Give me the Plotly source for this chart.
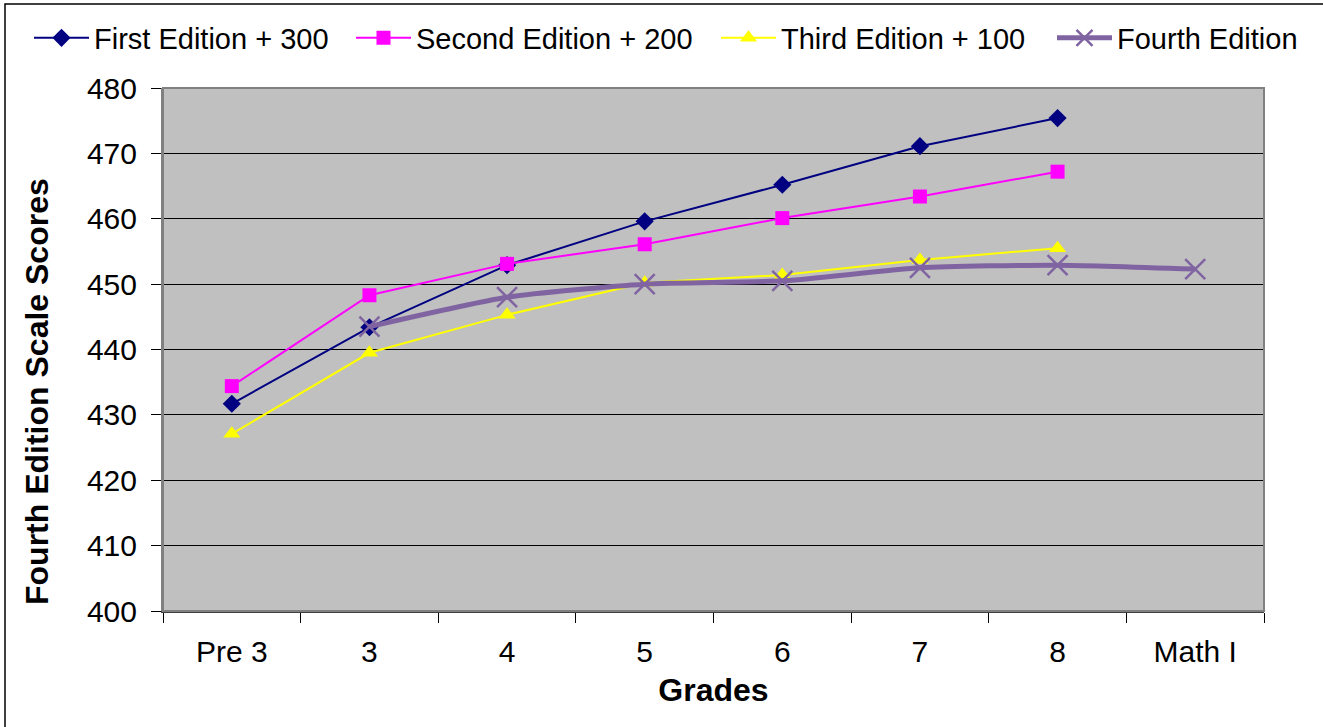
import plotly.graph_objects as go

# Grade categories on the x axis
grades = ["Pre 3", "3", "4", "5", "6", "7", "8", "Math I"]

# Scale scores per edition (offsets already applied)
first_plus_300 = [431.7, 443.4, 452.9, 459.6, 465.2, 471.1, 475.4, None]
second_plus_200 = [434.4, 448.3, 453.1, 456.1, 460.1, 463.4, 467.2, None]
third_plus_100 = [427.1, 439.5, 445.3, 450.2, 451.4, 453.7, 455.5, None]
fourth = [None, 443.5, 448.0, 450.0, 450.5, 452.5, 452.9, 452.3]

y_ticks = [400, 410, 420, 430, 440, 450, 460, 470, 480]

fig = go.Figure()

fig.add_trace(go.Scatter(
    x=grades, y=first_plus_300, name="First Edition + 300", mode="lines+markers",
    line=dict(color="#000080", width=2),
    marker=dict(symbol="diamond", size=14, color="#000080"),
    legend="legend",
))
fig.add_trace(go.Scatter(
    x=grades, y=second_plus_200, name="Second Edition + 200", mode="lines+markers",
    line=dict(color="#FF00FF", width=2),
    marker=dict(symbol="square", size=14, color="#FF00FF"),
    legend="legend2",
))
fig.add_trace(go.Scatter(
    x=grades, y=third_plus_100, name="Third Edition + 100", mode="lines+markers",
    line=dict(color="#FFFF00", width=2),
    marker=dict(symbol="triangle-up", size=15, color="#FFFF00"),
    legend="legend3",
))
fig.add_trace(go.Scatter(
    x=grades, y=fourth, name="Fourth Edition", mode="lines+markers",
    line=dict(color="#8064A2", width=5, shape="spline", smoothing=0.6),
    marker=dict(symbol="x-thin", size=20, line=dict(color="#8064A2", width=2.5)),
    legend="legend4",
))

font_family = "Liberation Sans, Arial, sans-serif"

# plot area in pixels: left 163, width 1101, bottom 611, height 523
def px_x(p):
    return (p - 163) / 1101


def px_y(p):
    return (611 - p) / 523


def legend_at(left_px):
    return dict(
        orientation="h", x=px_x(left_px), y=px_y(38), xanchor="left", yanchor="middle",
        font=dict(size=29), bgcolor="rgba(0,0,0,0)", itemwidth=55,
    )


fig.update_layout(
    width=1323, height=727,
    margin=dict(l=163, r=59, t=88, b=116, autoexpand=False),
    paper_bgcolor="white",
    plot_bgcolor="#C0C0C0",
    font=dict(family=font_family, size=29, color="black"),
    showlegend=True,
    legend=legend_at(29),
    legend2=legend_at(351),
    legend3=legend_at(716),
    legend4=legend_at(1052),
    xaxis=dict(
        type="category", tickson="boundaries", ticks="outside", ticklen=10,
        tickcolor="black", tickwidth=1, showgrid=False,
        showline=True, linecolor="#404040", linewidth=2, mirror=False,
        tickfont=dict(size=30), ticklabelstandoff=13,
        title=dict(text="<b>Grades</b>", font=dict(size=32), standoff=12),
        range=[-0.5, 7.5],
    ),
    yaxis=dict(
        range=[400, 480], tickvals=y_ticks, ticks="outside", ticklen=10,
        tickcolor="black", tickwidth=1,
        showgrid=True, gridcolor="black", gridwidth=1.2,
        showline=True, linecolor="#808080", linewidth=2,
        zeroline=False, tickfont=dict(size=30), ticklabelstandoff=8,
    ),
    annotations=[
        dict(text="<b>Fourth Edition Scale Scores</b>", textangle=-90,
             xref="paper", yref="paper", x=px_x(37), y=px_y(392),
             xanchor="center", yanchor="middle", showarrow=False,
             font=dict(size=32)),
    ],
    shapes=[
        # grey frame around the plotting area
        dict(type="rect", xref="paper", yref="paper", x0=0, x1=1, y0=0, y1=1,
             line=dict(color="#808080", width=2), layer="above"),
        # outer chart border
        dict(type="rect", xref="paper", yref="paper",
             x0=px_x(5), x1=px_x(1330), y0=px_y(735), y1=px_y(4),
             line=dict(color="black", width=1.5)),
    ],
)

fig.write_html("out.html")
